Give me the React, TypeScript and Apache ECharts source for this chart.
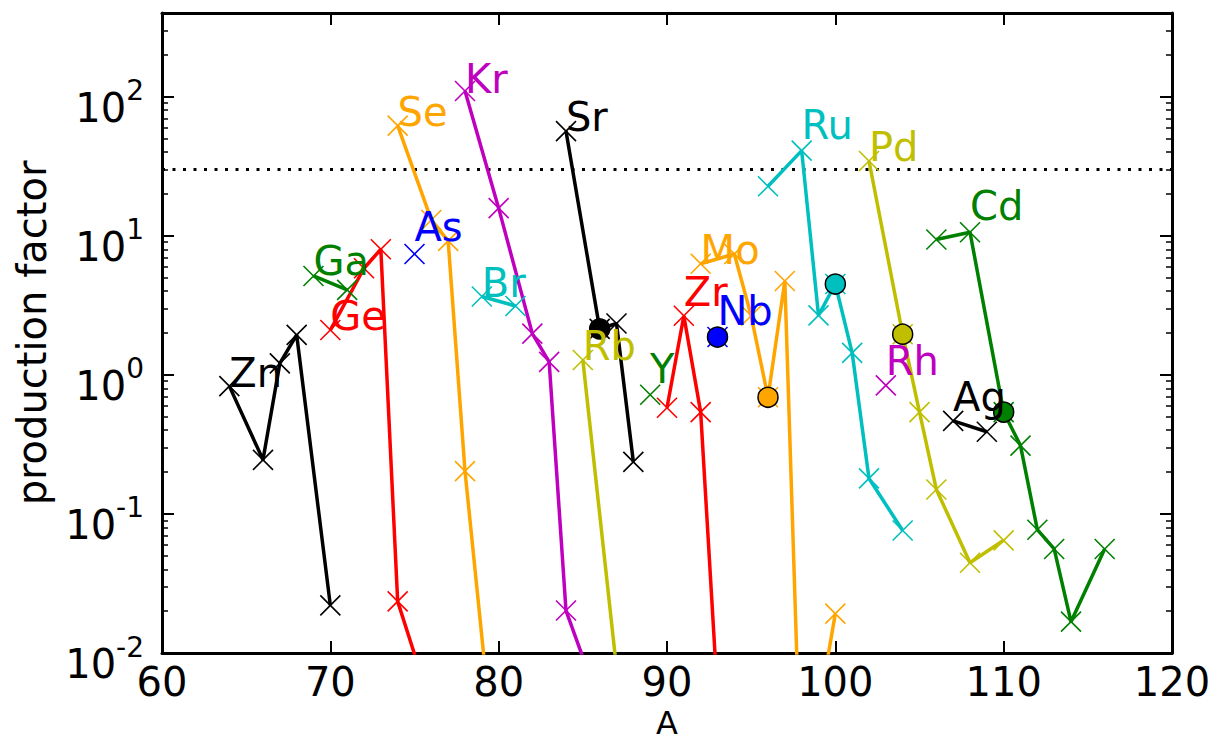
import React, { useEffect, useRef } from "react";
import * as echarts from "echarts";

// Isotope mass numbers (A) and production factors, one pair of arrays per element
const ZN_A = [64, 66, 67, 68, 70];
const ZN_PF = [0.83, 0.245, 1.21, 1.94, 0.022];
const GA_A = [69, 71];
const GA_PF = [5.14, 4.08];
const GE_A = [70, 72, 73, 74, 76];
const GE_PF = [2.1, 5.84, 8.0, 0.0235, 0.0041];
const AS_A = [75];
const AS_PF = [7.4];
const SE_A = [74, 76, 77, 78, 80];
const SE_PF = [62, 13, 9.2, 0.203, 0.00085];
const BR_A = [79, 81];
const BR_PF = [3.66, 3.13];
const KR_A = [78, 80, 82, 83, 84, 86];
const KR_PF = [110, 15.8, 1.98, 1.24, 0.0202, 0.0043];
const RB_A = [85, 87];
const RB_PF = [1.28, 0.0078];
const SR_A = [84, 86, 87, 88];
const SR_PF = [56.6, 2.14, 2.34, 0.237];
const Y_A = [89];
const Y_PF = [0.72];
const ZR_A = [90, 91, 92, 94];
const ZR_PF = [0.58, 2.66, 0.54, 0.000045];
const NB_A = [93];
const NB_PF = [1.87];
const MO_A = [92, 94, 95, 96, 97, 98, 100];
const MO_PF = [6.3, 7.4, 2.66, 0.69, 4.73, 0.00076, 0.0192];
const RU_A = [96, 98, 99, 100, 101, 102, 104];
const RU_PF = [22.7, 41, 2.68, 4.5, 1.44, 0.18, 0.076];
const RH_A = [103];
const RH_PF = [0.84];
const PD_A = [102, 104, 105, 106, 108, 110];
const PD_PF = [34.5, 1.96, 0.54, 0.15, 0.0446, 0.0646];
const AG_A = [107, 109];
const AG_PF = [0.467, 0.39];
const CD_A = [106, 108, 110, 111, 112, 113, 114, 116];
const CD_PF = [9.4, 10.6, 0.54, 0.31, 0.077, 0.056, 0.0168, 0.056];

// Highlighted isotopes (element, A), drawn as filled circles
const CIRCLED: [string, number][] = [
  ["Sr", 86],
  ["Nb", 93],
  ["Mo", 96],
  ["Ru", 100],
  ["Pd", 104],
  ["Cd", 110],
];

// Element name tags: [name, A, production factor] of the text baseline start
const TAGS: [string, number, number][] = [
  ["Zn", 64, 0.82],
  ["Ga", 69, 5.2],
  ["Ge", 70, 2.1],
  ["As", 75, 9.2],
  ["Se", 74, 62],
  ["Br", 79, 3.6],
  ["Kr", 78, 107],
  ["Rb", 85, 1.28],
  ["Sr", 84, 56.6],
  ["Y", 89, 0.88],
  ["Zr", 91, 3.13],
  ["Nb", 93, 2.29],
  ["Mo", 92, 6.3],
  ["Ru", 98, 49.6],
  ["Rh", 103, 1.0],
  ["Pd", 102, 34.5],
  ["Ag", 107, 0.55],
  ["Cd", 108, 13],
];

const REFERENCE_LEVEL = 30;

const X_TICKS = [60, 70, 80, 90, 100, 110, 120];
const Y_MAJOR = [0.01, 0.1, 1, 10, 100];
const Y_MINOR: number[] = [];
for (let e = -2; e <= 2; e++) {
  for (let k = 2; k <= 9; k++) {
    const v = k * Math.pow(10, e);
    if (v < 400) Y_MINOR.push(v);
  }
}

const K = "#000000";
const G = "#008000";
const R = "#ff0000";
const B = "#0000ff";
const O = "#ffa500";
const C = "#00bfbf";
const M = "#bf00bf";
const YL = "#bfbf00";

const ELEMENTS = [
  { name: "Zn", color: K, a: ZN_A, pf: ZN_PF },
  { name: "Ga", color: G, a: GA_A, pf: GA_PF },
  { name: "Ge", color: R, a: GE_A, pf: GE_PF },
  { name: "As", color: B, a: AS_A, pf: AS_PF },
  { name: "Se", color: O, a: SE_A, pf: SE_PF },
  { name: "Br", color: C, a: BR_A, pf: BR_PF },
  { name: "Kr", color: M, a: KR_A, pf: KR_PF },
  { name: "Rb", color: YL, a: RB_A, pf: RB_PF },
  { name: "Sr", color: K, a: SR_A, pf: SR_PF },
  { name: "Y", color: G, a: Y_A, pf: Y_PF },
  { name: "Zr", color: R, a: ZR_A, pf: ZR_PF },
  { name: "Nb", color: B, a: NB_A, pf: NB_PF },
  { name: "Mo", color: O, a: MO_A, pf: MO_PF },
  { name: "Ru", color: C, a: RU_A, pf: RU_PF },
  { name: "Rh", color: M, a: RH_A, pf: RH_PF },
  { name: "Pd", color: YL, a: PD_A, pf: PD_PF },
  { name: "Ag", color: K, a: AG_A, pf: AG_PF },
  { name: "Cd", color: G, a: CD_A, pf: CD_PF },
];

const FONT = "DejaVu Sans";
const CROSS = "path://M0,0L10,10M10,0L0,10";

function buildOption(): echarts.EChartsCoreOption {
  const series: any[] = [];

  ELEMENTS.forEach((el) => {
    series.push({
      type: "line",
      name: el.name,
      xAxisIndex: 0,
      yAxisIndex: 0,
      data: el.a.map((a, i) => [a, el.pf[i]]),
      symbol: CROSS,
      symbolSize: 20,
      showSymbol: true,
      clip: true,
      silent: true,
      z: 2,
      lineStyle: { color: el.color, width: 3.5 },
      itemStyle: { color: el.color, borderColor: el.color, borderWidth: 1.6 },
    });
  });

  CIRCLED.forEach(([name, a]) => {
    const el = ELEMENTS.find((e) => e.name === name)!;
    const i = el.a.indexOf(a);
    series.push({
      type: "scatter",
      xAxisIndex: 0,
      yAxisIndex: 0,
      data: [[a, el.pf[i]]],
      symbol: "circle",
      symbolSize: 20,
      silent: true,
      z: 4,
      itemStyle: { color: el.color, borderColor: "#000", borderWidth: 1.5, opacity: 1 },
    });
  });

  series.push({
    type: "scatter",
    xAxisIndex: 0,
    yAxisIndex: 0,
    symbol: "circle",
    symbolSize: 0.1,
    silent: true,
    z: 5,
    itemStyle: { color: "rgba(0,0,0,0)", opacity: 1 },
    data: TAGS.map(([name, a, v]) => {
      const el = ELEMENTS.find((e) => e.name === name)!;
      return {
        name,
        value: [a, v],
        label: {
          show: true,
          formatter: name,
          position: [0, 0],
          align: "left",
          verticalAlign: "bottom",
          offset: [0, 6],
          color: el.color,
          opacity: 1,
          textBorderWidth: 0,
          textBorderColor: "transparent",
          fontSize: 40,
          fontFamily: FONT,
        },
      };
    }),
  });

  series.push({
    type: "line",
    xAxisIndex: 0,
    yAxisIndex: 0,
    data: [
      [60, REFERENCE_LEVEL],
      [120, REFERENCE_LEVEL],
    ],
    symbol: "none",
    silent: true,
    z: 1,
    lineStyle: { color: "#000", width: 3, type: [3, 7.5], cap: "butt" },
  });

  const frame = { show: true, onZero: false, lineStyle: { color: "#000", width: 3 } };
  const yBase = {
    type: "log",
    logBase: 10,
    min: 0.01,
    max: 400,
    splitLine: { show: false },
    minorTick: { show: false },
  };

  return {
    animation: false,
    backgroundColor: "#fff",
    textStyle: { fontFamily: FONT },
    grid: {
      left: 162,
      right: 47,
      top: 13,
      bottom: 91,
      containLabel: false,
      outerBoundsMode: "none",
    },
    xAxis: [
      {
        type: "value",
        position: "bottom",
        min: 60,
        max: 120,
        interval: 10,
        axisLine: frame,
        axisTick: {
          inside: true,
          length: 12,
          lineStyle: { color: "#000", width: 2 },
          customValues: X_TICKS,
        },
        axisLabel: {
          customValues: X_TICKS,
          fontSize: 40,
          color: "#000",
          margin: 9,
          fontFamily: FONT,
        },
        splitLine: { show: false },
        name: "A",
        nameLocation: "middle",
        nameGap: 55,
        nameTextStyle: { fontSize: 32, lineHeight: 24, color: "#000", fontFamily: FONT },
      },
      {
        type: "value",
        position: "top",
        min: 60,
        max: 120,
        interval: 10,
        axisLine: frame,
        axisTick: {
          inside: true,
          length: 12,
          lineStyle: { color: "#000", width: 2 },
          customValues: X_TICKS,
        },
        axisLabel: { show: false },
        splitLine: { show: false },
      },
    ],
    yAxis: [
      {
        ...yBase,
        position: "left",
        axisLine: frame,
        axisTick: {
          inside: true,
          length: 12,
          lineStyle: { color: "#000", width: 2 },
          customValues: Y_MAJOR,
        },
        axisLabel: {
          customValues: Y_MAJOR,
          margin: 18,
          color: "#000",
          fontFamily: FONT,
          formatter: (v: number) => `{b|10}{s|${Math.round(Math.log10(v))}}`,
          rich: {
            b: {
              fontSize: 40,
              lineHeight: 40,
              padding: [11, 0, 0, 0],
              verticalAlign: "top",
              color: "#000",
              fontFamily: FONT,
            },
            s: {
              fontSize: 28,
              lineHeight: 28,
              verticalAlign: "top",
              color: "#000",
              fontFamily: FONT,
            },
          },
        },
        name: "production factor",
        nameLocation: "middle",
        nameGap: 110,
        nameTextStyle: { fontSize: 40, color: "#000", fontFamily: FONT },
      },
      {
        ...yBase,
        position: "left",
        axisLine: { show: false, onZero: false },
        axisTick: {
          inside: true,
          length: 6,
          lineStyle: { color: "#000", width: 1.5 },
          customValues: Y_MINOR,
        },
        axisLabel: { show: false },
      },
      {
        ...yBase,
        position: "right",
        axisLine: frame,
        axisTick: {
          inside: true,
          length: 12,
          lineStyle: { color: "#000", width: 2 },
          customValues: Y_MAJOR,
        },
        axisLabel: { show: false },
      },
      {
        ...yBase,
        position: "right",
        axisLine: { show: false, onZero: false },
        axisTick: {
          inside: true,
          length: 6,
          lineStyle: { color: "#000", width: 1.5 },
          customValues: Y_MINOR,
        },
        axisLabel: { show: false },
      },
    ],
    series,
  };
}

export default function App() {
  const ref = useRef<HTMLDivElement>(null);

  useEffect(() => {
    document.body.style.margin = "0";
    if (!ref.current) return;
    const chart = echarts.init(ref.current, undefined, { renderer: "svg" });
    chart.setOption(buildOption());
    return () => chart.dispose();
  }, []);

  return <div ref={ref} style={{ width: 1219, height: 744 }} />;
}
